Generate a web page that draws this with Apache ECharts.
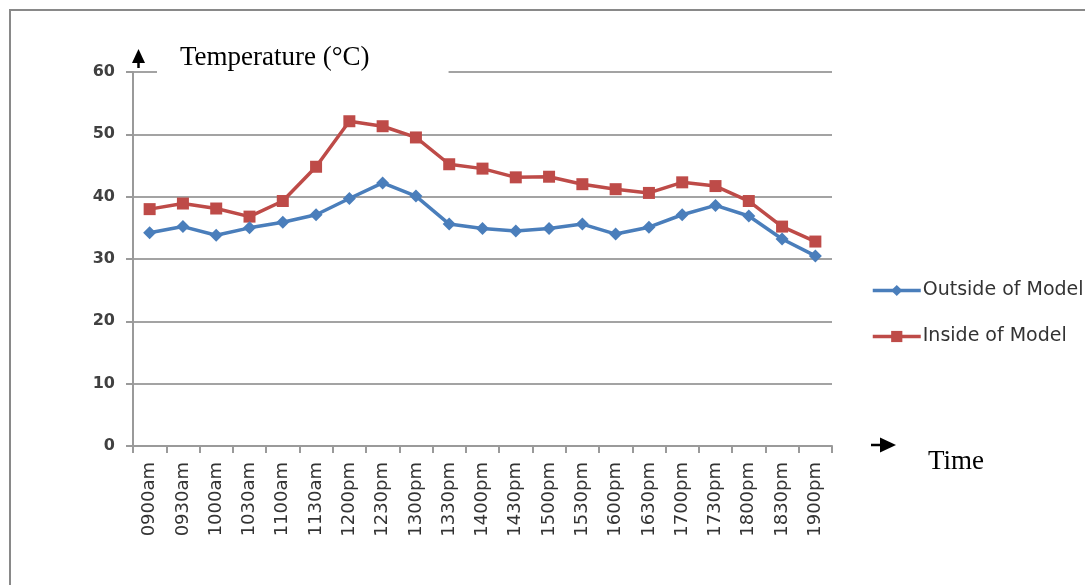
<!DOCTYPE html>
<html>
<head>
<meta charset="utf-8">
<script src="https://cdn.jsdelivr.net/npm/echarts@6/dist/echarts.min.js"></script>
<style>html,body{margin:0;padding:0;background:#fff;}#c{width:1085px;height:585px;}</style>
</head>
<body>
<div id="c"></div>
<script>
var categories = ['0900am','0930am','1000am','1030am','1100am','1130am','1200pm','1230pm','1300pm','1330pm','1400pm','1430pm','1500pm','1530pm','1600pm','1630pm','1700pm','1730pm','1800pm','1830pm','1900pm'];
var outside = [34.2, 35.2, 33.8, 35.0, 35.9, 37.1, 39.7, 42.2, 40.1, 35.6, 34.9, 34.5, 34.9, 35.6, 34.0, 35.1, 37.1, 38.6, 36.9, 33.2, 30.5];
var inside = [38.0, 38.9, 38.1, 36.8, 39.3, 44.8, 52.1, 51.3, 49.5, 45.2, 44.5, 43.1, 43.2, 42.0, 41.2, 40.6, 42.3, 41.7, 39.3, 35.2, 32.8];
var yTicks = [0, 10, 20, 30, 40, 50, 60];

var chart = echarts.init(document.getElementById('c'), null, {renderer: 'canvas'});
chart.setOption({
  animation: false,
  backgroundColor: '#fff',
  title: {
    text: 'Temperature (°C)',
    left: 157, top: 43,
    padding: [2, 79, 4, 23],
    backgroundColor: '#fff',
    textStyle: {fontFamily: 'Liberation Serif', fontSize: 27, fontWeight: 'normal', color: '#000', lineHeight: 26}
  },
  grid: {left: 133, right: 253, top: 72, bottom: 139, containLabel: false},
  legend: {
    orient: 'vertical', left: 866, top: 276, itemWidth: 48, itemHeight: 14, itemGap: 27,
    lineStyle: {width: 3.5},
    textStyle: {fontFamily: 'DejaVu Sans', fontSize: 19, color: '#333', lineHeight: 14, padding: [0, 0, 0, -3]},
    data: ['Outside of Model', 'Inside of Model']
  },
  xAxis: {
    type: 'category', data: categories, boundaryGap: true,
    axisLine: {lineStyle: {color: '#9a9a9a', width: 2}},
    axisTick: {show: true, alignWithLabel: false, length: 7, lineStyle: {color: '#9a9a9a', width: 2}},
    axisLabel: {rotate: 90, interval: 0, margin: 16, fontFamily: 'DejaVu Sans', fontSize: 18, color: '#333'},
    splitLine: {show: false}
  },
  yAxis: {
    type: 'value', min: yTicks[0], max: yTicks[yTicks.length - 1], interval: 10,
    axisLine: {show: true, lineStyle: {color: '#9a9a9a', width: 2}},
    axisTick: {show: true, length: 7, lineStyle: {color: '#9a9a9a', width: 2}},
    axisLabel: {margin: 18, fontFamily: 'DejaVu Sans', fontWeight: 'bold', fontSize: 16, color: '#404040'},
    splitLine: {show: true, lineStyle: {color: '#a3a3a3', width: 2}}
  },
  series: [
    {name: 'Outside of Model', type: 'line', data: outside, symbol: 'diamond', symbolSize: 13,
     itemStyle: {color: '#4a7ebb'}, lineStyle: {color: '#4a7ebb', width: 3.5}, z: 3},
    {name: 'Inside of Model', type: 'line', data: inside, symbol: 'rect', symbolSize: 12,
     itemStyle: {color: '#be4b48'}, lineStyle: {color: '#be4b48', width: 3.5}, z: 2}
  ],
  graphic: [
    {type: 'rect', shape: {x: 10, y: 10, width: 1100, height: 600}, style: {fill: 'none', stroke: '#898989', lineWidth: 2}, z: 100},
    {type: 'polygon', shape: {points: [[138.5, 49], [132, 63], [145, 63]]}, style: {fill: '#000'}, z: 100},
    {type: 'line', shape: {x1: 138.5, y1: 62, x2: 138.5, y2: 68}, style: {stroke: '#000', lineWidth: 2.5}, z: 100},
    {type: 'polygon', shape: {points: [[896, 445], [880, 437.5], [880, 452.5]]}, style: {fill: '#000'}, z: 100},
    {type: 'line', shape: {x1: 871, y1: 445, x2: 882, y2: 445}, style: {stroke: '#000', lineWidth: 2.5}, z: 100},
    {type: 'text', left: 928, top: 448, style: {text: 'Time', font: '27px "Liberation Serif"', fill: '#000'}, z: 100}
  ]
});
</script>
</body>
</html>
